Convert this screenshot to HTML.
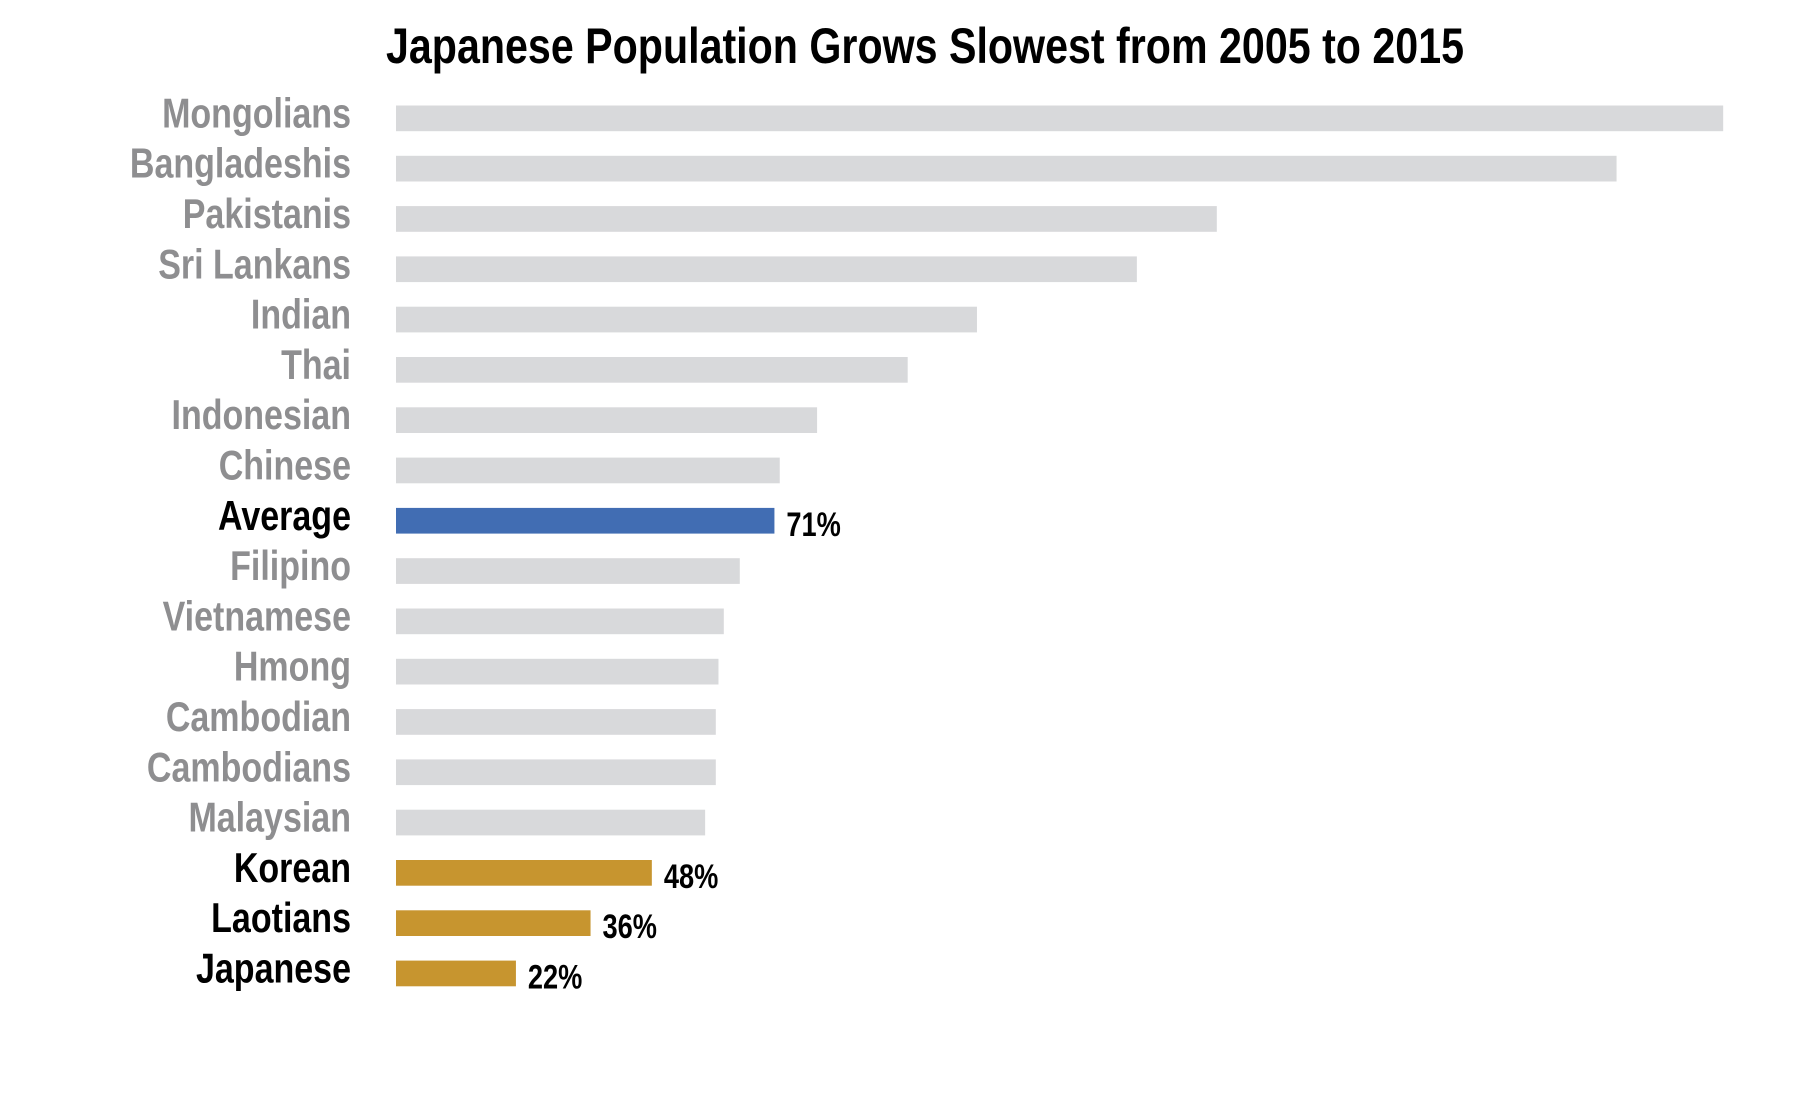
<!DOCTYPE html>
<html><head><meta charset="utf-8"><style>
html,body{margin:0;padding:0;background:#fff;}
svg{display:block;}
text{font-family:"Liberation Sans Narrow","Liberation Sans",sans-serif;font-weight:bold;}
</style></head><body>
<svg id="chart" width="1819" height="1099" viewBox="0 0 1819 1099" xmlns="http://www.w3.org/2000/svg">
<text x="925" y="63" text-anchor="middle" font-size="50" fill="#000" textLength="1078" lengthAdjust="spacingAndGlyphs">Japanese Population Grows Slowest from 2005 to 2015</text>
<g id="bars"></g>
</svg>
<script>
const categories = ["Mongolians","Bangladeshis","Pakistanis","Sri Lankans","Indian","Thai","Indonesian","Chinese","Average","Filipino","Vietnamese","Hmong","Cambodian","Cambodians","Malaysian","Korean","Laotians","Japanese"];
const values = [249,229,154,139,109,96,79,72,71,64.5,61.5,60.5,60,60,58,48,36.5,22.5];
const groups = ["other","other","other","other","other","other","other","other","avg","other","other","other","other","other","other","hi","hi","hi"];
const valueLabels = ["","","","","","","","","71%","","","","","","","48%","36%","22%"];

const NS = "http://www.w3.org/2000/svg";
const x0 = 396, pxPer = 5.33, top0 = 105.5, pitch = 50.3, barH = 25.7;
const xScale = v => v * pxPer;
const yScale = i => top0 + i * pitch;
const fillFor = g => g === "avg" ? "#416db3" : g === "hi" ? "#c7952f" : "#d8d9db";
const labelColor = g => g === "other" ? "#8e8e90" : "#000";
const g = document.getElementById("bars");
categories.forEach((c, i) => {
  const y = yScale(i);
  const r = document.createElementNS(NS, "rect");
  
  
  r.setAttribute("x", x0); r.setAttribute("y", y);
  r.setAttribute("width", xScale(values[i])); r.setAttribute("height", barH);
  r.setAttribute("fill", fillFor(groups[i]));
  g.appendChild(r);
  const t = document.createElementNS(NS, "text");
  
  
  t.setAttribute("x", 0); t.setAttribute("y", 0);
  t.setAttribute("transform", "translate(351," + (y + barH / 2 + 9) + ") scale(0.81,1)");
  t.setAttribute("text-anchor", "end"); t.setAttribute("font-size", "42");
  t.setAttribute("fill", labelColor(groups[i]));
  t.textContent = c;
  g.appendChild(t);
  if (valueLabels[i]) {
    const v = document.createElementNS(NS, "text");
    
    
    v.setAttribute("x", 0); v.setAttribute("y", 0);
    v.setAttribute("transform", "translate(" + (x0 + xScale(values[i]) + 12) + "," + (y + barH / 2 + 15) + ") scale(0.8,1)");
    v.setAttribute("font-size", "34"); v.setAttribute("fill", "#000");
    v.textContent = valueLabels[i];
    g.appendChild(v);
  }
});
</script>
</body></html>
